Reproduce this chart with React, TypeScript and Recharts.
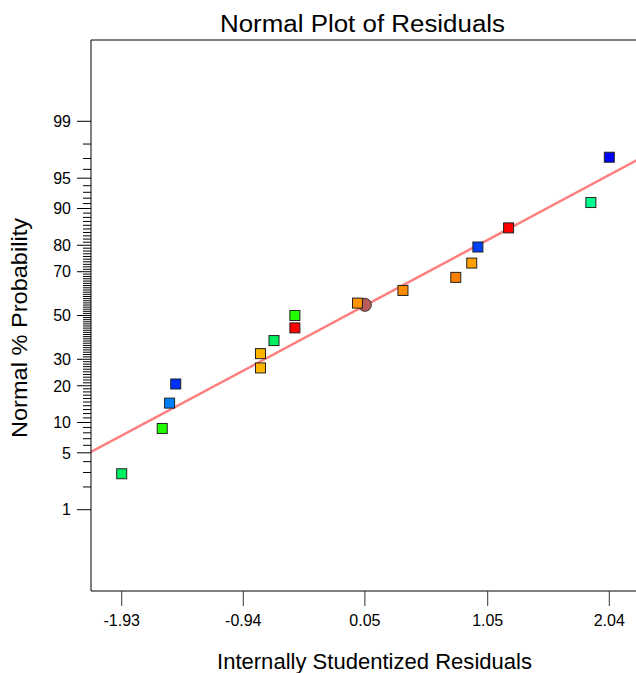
import { ReferenceLine, Scatter, ScatterChart, XAxis, YAxis } from "recharts";

const residuals = [-1.93, -1.6, -1.54, -1.49, -0.8, -0.8, -0.69, -0.52, -0.52, -0.01, 0.36, 0.79, 0.92, 0.97, 1.22, 1.89, 2.04];
const probabilities = [2.9, 8.8, 14.7, 20.6, 26.5, 32.4, 38.2, 44.1, 50.0, 55.9, 61.8, 67.6, 73.5, 79.4, 85.3, 91.2, 97.1];
const pointColors = [
  "#00f060", "#22ff00", "#0080ff", "#0030ff", "#ffb400", "#ffb400", "#00f060", "#ff0000", "#22ff00",
  "#ff9400", "#ff8c00", "#ff8000", "#ffa000", "#0040ff", "#ff0000", "#00ff90", "#0000ff",
];

// the round marker near the centre
const centerX = [0.05];
const centerP = [55.1];

// fitted line end points (residual, %)
const fitX = [-2.18, 2.29];
const fitP = [5.1, 97.0];

const xTicks = [-1.93, -0.94, 0.05, 1.05, 2.04];
const majorPercents = [1, 5, 10, 20, 30, 50, 70, 80, 90, 95, 99];
const minorPercents = Array.from({ length: 99 }, (_, i) => i + 1);

const font = '"Liberation Sans", Arial, sans-serif';

// inverse normal cdf (Acklam)
function probit(p: number) {
  const a = [-39.69683028665376, 220.9460984245205, -275.9285104469687, 138.357751867269, -30.66479806614716, 2.506628277459239];
  const b = [-54.47609879822406, 161.5858368580409, -155.6989798598866, 66.80131188771972, -13.28068155288572];
  const c = [-0.007784894002430293, -0.3223964580411365, -2.400758277161838, -2.549732539343734, 4.374664141464968, 2.938163982698783];
  const d = [0.007784695709041462, 0.3224671290700398, 2.445134137142996, 3.754408661907416];
  const pl = 0.02425;
  if (p < pl) {
    const q = Math.sqrt(-2 * Math.log(p));
    return (((((c[0] * q + c[1]) * q + c[2]) * q + c[3]) * q + c[4]) * q + c[5]) / ((((d[0] * q + d[1]) * q + d[2]) * q + d[3]) * q + 1);
  }
  if (p > 1 - pl) {
    const q = Math.sqrt(-2 * Math.log(1 - p));
    return -(((((c[0] * q + c[1]) * q + c[2]) * q + c[3]) * q + c[4]) * q + c[5]) / ((((d[0] * q + d[1]) * q + d[2]) * q + d[3]) * q + 1);
  }
  const q = p - 0.5;
  const r = q * q;
  return ((((((a[0] * r + a[1]) * r + a[2]) * r + a[3]) * r + a[4]) * r + a[5]) * q) / (((((b[0] * r + b[1]) * r + b[2]) * r + b[3]) * r + b[4]) * r + 1);
}

const points = residuals.map((x, i) => ({ x, z: probit(probabilities[i] / 100), color: pointColors[i] }));
const center = centerX.map((x, i) => ({ x, z: probit(centerP[i] / 100) }));
const yTicks = minorPercents.map((p) => probit(p / 100));

function SquareDot(props: any) {
  const { cx, cy, payload } = props;
  return <rect x={cx - 5} y={cy - 5} width={10} height={10} fill={payload.color} stroke="#222" strokeWidth={1} />;
}

function RoundDot(props: any) {
  const { cx, cy } = props;
  return <circle cx={cx} cy={cy} r={6.5} fill="#b85c5c" stroke="#333" strokeWidth={1} />;
}

function ProbTick(props: any) {
  const { x, y, payload } = props;
  const major = majorPercents.find((p) => Math.abs(probit(p / 100) - payload.value) < 1e-9);
  return (
    <g>
      <line x1={x - (major ? 14 : 8)} x2={x} y1={y} y2={y} stroke="#000" strokeWidth={1} />
      {major && (
        <text x={x - 20} y={y} dy="0.36em" textAnchor="end" fontSize={16} fontFamily={font} fill="#000">
          {major}
        </text>
      )}
    </g>
  );
}

export default function App() {
  return (
    <div style={{ position: "absolute", left: 0, top: 0, width: 636, height: 673, overflow: "hidden", background: "#fff" }}>
      <ScatterChart width={660} height={673} margin={{ top: 40, right: 20, bottom: 0, left: 0 }}>
        <XAxis
          type="number"
          dataKey="x"
          domain={[-2.18, 2.29]}
          ticks={xTicks}
          allowDataOverflow
          height={82}
          tickSize={15}
          tickMargin={9}
          axisLine={{ stroke: "#000" }}
          tickLine={{ stroke: "#333" }}
          tick={{ fontSize: 16, fill: "#000", fontFamily: font }}
        />
        <YAxis
          type="number"
          dataKey="z"
          domain={[-3.3, 3.3]}
          ticks={yTicks}
          interval={0}
          allowDataOverflow
          width={91}
          tickSize={0}
          tickMargin={0}
          axisLine={{ stroke: "#000" }}
          tickLine={false}
          tick={<ProbTick />}
        />
        <ReferenceLine y={3.3} stroke="#000" ifOverflow="extendDomain" />
        <ReferenceLine
          segment={[
            { x: fitX[0], y: probit(fitP[0] / 100) },
            { x: fitX[1], y: probit(fitP[1] / 100) },
          ]}
          stroke="#ff7f7f"
          strokeWidth={2.5}
          ifOverflow="hidden"
        />
        <Scatter data={center} shape={<RoundDot />} isAnimationActive={false} />
        <Scatter data={points} shape={<SquareDot />} isAnimationActive={false} />
      </ScatterChart>
      <svg width={636} height={673} style={{ position: "absolute", left: 0, top: 0, pointerEvents: "none" }}>
        <text x={362.5} y={32} textAnchor="middle" fontSize={23} textLength={285} lengthAdjust="spacingAndGlyphs" fontFamily={font} fill="#000">
          Normal Plot of Residuals
        </text>
        <text x={374.5} y={669} textAnchor="middle" fontSize={22} textLength={315} lengthAdjust="spacingAndGlyphs" fontFamily={font} fill="#000">
          Internally Studentized Residuals
        </text>
        <text x={27} y={328} transform="rotate(-90 27 328)" textAnchor="middle" fontSize={22} textLength={220} lengthAdjust="spacingAndGlyphs" fontFamily={font} fill="#000">
          Normal % Probability
        </text>
      </svg>
    </div>
  );
}
